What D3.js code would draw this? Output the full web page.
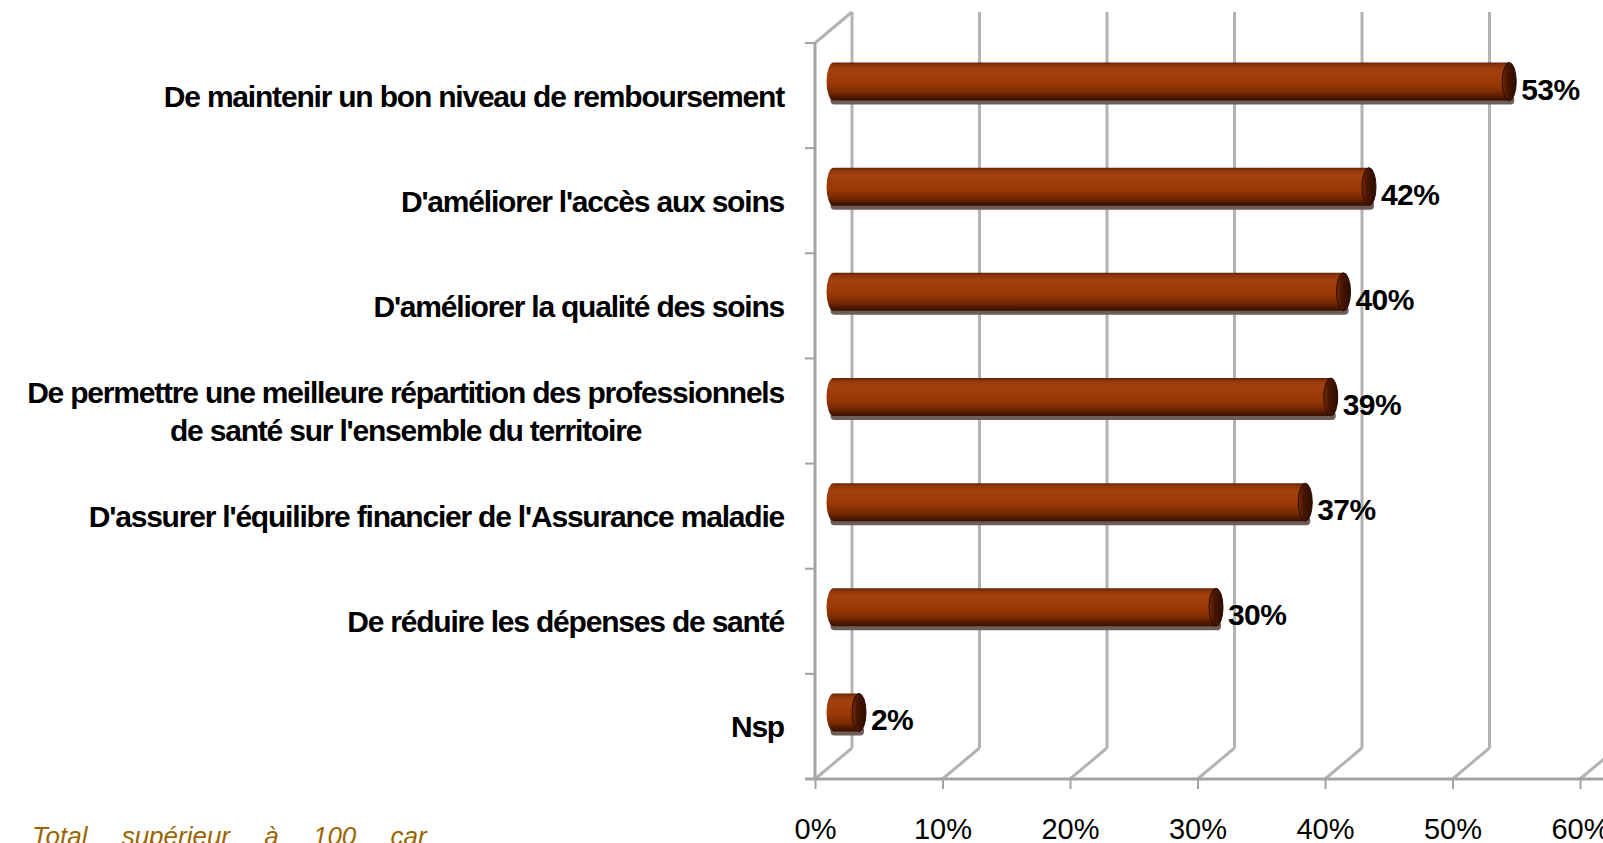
<!DOCTYPE html>
<html>
<head>
    <meta charset="utf-8" />
    <title>Priorités</title>
    <script src="https://cdn.jsdelivr.net/npm/d3@7"></script>
    <style>
        body { margin: 0; background: #fff; }
        svg { display: block; font-family: "Liberation Sans", Arial, sans-serif; }
    </style>
</head>
<body>
    <svg width="1603" height="843" id="mainsvg"></svg>
    <script>
        // data
        const categories = [
            "De maintenir un bon niveau de remboursement",
            "D'améliorer l'accès aux soins",
            "D'améliorer la qualité des soins",
            "De permettre une meilleure répartition des professionnels\nde santé sur l'ensemble du territoire",
            "D'assurer l'équilibre financier de l'Assurance maladie",
            "De réduire les dépenses de santé",
            "Nsp"
        ];
        const values = [53, 42, 40, 39, 37, 30, 2];
        const tickValues = [0, 10, 20, 30, 40, 50, 60];
        const note = "Total supérieur à 100 car";

        const svg = d3.select('svg');
        const plot = { left: 815, right: 1580, top: 43, bottom: 779 };
        const depth = { dx: 37, dy: -31 };   // back wall offset
        const barOff = { dx: 18.5, dy: -14 }; // bars sit half way in
        const barH = 38, capRx = 7;

        const xScale = d3.scaleLinear().domain([0, 60]).range([plot.left, plot.right]);
        const yScale = d3.scaleBand().domain(categories).range([plot.top, plot.bottom]).padding(0);

        // gradients for the cylinders
        const defs = svg.append('defs');
        const g1 = defs.append('linearGradient').attr('id', 'cyl')
            .attr('x1', 0).attr('y1', 0).attr('x2', 0).attr('y2', 1);
        [[0, '#5e2205'], [0.07, '#8e360a'], [0.2, '#a2410d'], [0.55, '#9a3906'],
         [0.78, '#7a2a03'], [0.92, '#4d1800'], [1, '#361000']]
            .forEach(([o, c]) => g1.append('stop').attr('offset', o).attr('stop-color', c));
        const g2 = defs.append('linearGradient').attr('id', 'cap')
            .attr('x1', 0).attr('y1', 0).attr('x2', 1).attr('y2', 0);
        [[0, '#7a2c06'], [0.35, '#4a1700'], [1, '#2d0b00']]
            .forEach(([o, c]) => g2.append('stop').attr('offset', o).attr('stop-color', c));

        // gridlines on the back wall + floor diagonals
        const grid = svg.append('g').attr('stroke', '#b3b3b3').attr('stroke-width', 3).attr('fill', 'none');
        grid.selectAll('.back').data(tickValues).enter().append('line')
            .attr('x1', d => xScale(d) + depth.dx).attr('x2', d => xScale(d) + depth.dx)
            .attr('y1', plot.top + depth.dy).attr('y2', plot.bottom + depth.dy);
        grid.selectAll('.floor').data(tickValues).enter().append('line')
            .attr('x1', d => xScale(d)).attr('y1', plot.bottom)
            .attr('x2', d => xScale(d) + depth.dx).attr('y2', plot.bottom + depth.dy);
        // left wall top edge
        grid.append('line')
            .attr('x1', plot.left).attr('y1', plot.top)
            .attr('x2', plot.left + depth.dx).attr('y2', plot.top + depth.dy);

        // axes
        const axisColor = '#a3a3a3';
        const xAxis = d3.axisBottom(xScale).tickValues(tickValues).tickSize(10).tickFormat(d => d + '%');
        const xAxisGroup = svg.append('g').attr('transform', `translate(0, ${plot.bottom})`).call(xAxis);
        xAxisGroup.select('.domain').attr('stroke', axisColor).attr('stroke-width', 3)
            .attr('d', `M${plot.left - 10},0H${plot.right + 30}`);
        xAxisGroup.selectAll('.tick line').attr('stroke', axisColor).attr('stroke-width', 2);
        xAxisGroup.selectAll('.tick text').attr('font-size', 29).attr('fill', '#000')
            .attr('font-family', '"Liberation Sans", Arial, sans-serif')
            .attr('dy', 0).attr('y', 60);

        const yAxisGroup = svg.append('g');
        yAxisGroup.append('line').attr('x1', plot.left).attr('x2', plot.left)
            .attr('y1', plot.top).attr('y2', plot.bottom)
            .attr('stroke', axisColor).attr('stroke-width', 3);
        const bounds = categories.map(c => yScale(c)).concat([plot.bottom]);
        yAxisGroup.selectAll('.ytick').data(bounds).enter().append('line')
            .attr('x1', plot.left - 10).attr('x2', plot.left)
            .attr('y1', d => d).attr('y2', d => d)
            .attr('stroke', axisColor).attr('stroke-width', 2);

        // bars
        const rows = categories.map((c, i) => ({ cat: c, v: values[i] }));
        const cy = d => yScale(d.cat) + yScale.bandwidth() / 2 + barOff.dy;
        const x0 = () => xScale(0) + barOff.dx;
        const x1 = d => xScale(d.v) + barOff.dx;
        const ry = barH / 2;

        const bars = svg.append('g').selectAll('g').data(rows).enter().append('g');
        bars.append('rect').attr('class', 'shadow')
            .attr('x', d => x0() - capRx + 4).attr('width', d => x1(d) - x0() + 2 * capRx - 6)
            .attr('y', d => cy(d) + ry - 5).attr('height', 9).attr('rx', 4)
            .attr('fill', '#6d5e59');
        bars.append('path').attr('class', 'body')
            .attr('d', d => {
                const a = x0(), b = x1(d), c = cy(d);
                return `M${a},${c - ry}L${b},${c - ry}L${b},${c + ry}L${a},${c + ry}` +
                    `A${capRx},${ry} 0 0 1 ${a},${c - ry}Z`;
            })
            .attr('fill', 'url(#cyl)');
        bars.append('ellipse').attr('class', 'cap')
            .attr('cx', d => x1(d)).attr('cy', cy).attr('rx', capRx).attr('ry', ry)
            .attr('fill', 'url(#cap)').attr('stroke', '#2b0a00').attr('stroke-width', 1);

        // value labels
        bars.append('text')
            .attr('x', d => x1(d) + capRx + 5)
            .attr('y', d => yScale(d.cat) + yScale.bandwidth() / 2 + 4)
            .attr('font-size', 30).attr('font-weight', 'bold').attr('letter-spacing', -0.6)
            .attr('fill', '#000')
            .text(d => d.v + '%');

        // category labels
        const labelRight = 784;
        const labels = svg.append('g').selectAll('text').data(categories).enter().append('text')
            .attr('font-size', 30).attr('font-weight', 'bold').attr('letter-spacing', -1.2)
            .attr('fill', '#000')
            .attr('text-anchor', 'middle');
        labels.each(function (c) {
            const t = d3.select(this);
            const lines = c.split('\n');
            const mid = yScale(c) + yScale.bandwidth() / 2;
            const lh = 38;
            lines.forEach((ln, i) => {
                t.append('tspan').attr('y', mid + 11 + (i - (lines.length - 1) / 2) * lh).text(ln);
            });
            let w = 0;
            t.selectAll('tspan').each(function () { w = Math.max(w, this.getComputedTextLength()); });
            t.selectAll('tspan').attr('x', labelRight - w / 2);
        });

        // footnote, cut by the bottom edge
        svg.append('text').attr('x', 32).attr('y', 845)
            .attr('font-size', 26).attr('font-style', 'italic').attr('fill', '#996600')
            .attr('word-spacing', 27)
            .text(note);
    </script>
</body>
</html>
